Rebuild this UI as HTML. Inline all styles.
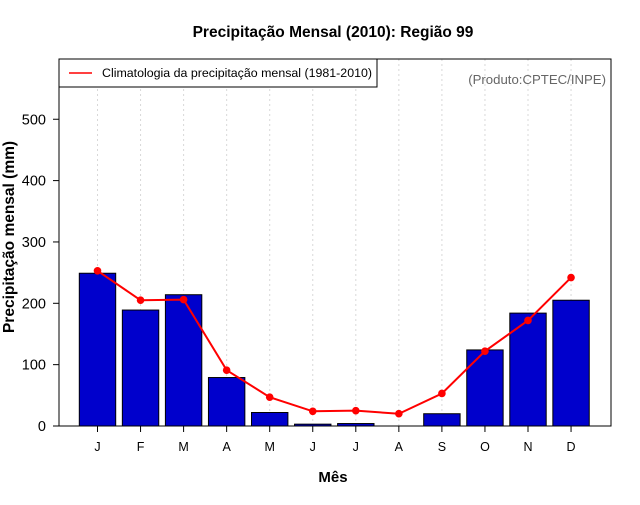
<!DOCTYPE html>
<html><head><meta charset="utf-8"><style>
body{margin:0;background:#fff;}
svg text{font-family:"Liberation Sans",sans-serif;}
</style></head><body>
<svg id="c" width="640" height="500" xmlns="http://www.w3.org/2000/svg"></svg>
<script>
const months=["J","F","M","A","M","J","J","A","S","O","N","D"];
const precip2010=[249,189,214,79,22,3,4,0,20,124,184,205];
const climatology=[253,205,206,91,47,24,25,20,53,122,172,242];
const yTicks=[0,100,200,300,400,500];
const NS="http://www.w3.org/2000/svg";
const svg=document.getElementById('c');
function el(t,a,txt){const e=document.createElementNS(NS,t);for(const k in a)e.setAttribute(k,a[k]);if(txt!=null)e.textContent=txt;svg.appendChild(e);return e;}
const L=59,R=611,T=59,B=426;
const y=v=>B-v*0.6135;
const x=i=>97.5+i*43.05;
const bw=36.4;
let e;
months.forEach((m,i)=>{e=el('line',{x1:x(i),x2:x(i),y1:T,y2:B,stroke:'#d8d8d8','stroke-dasharray':'2,3'});

});
precip2010.forEach((v,i)=>{e=el('rect',{x:x(i)-bw/2,y:y(v),width:bw,height:B-y(v),fill:'#0000cc',stroke:'#000','stroke-width':1});

});
e=el('polyline',{points:climatology.map((v,i)=>x(i)+','+y(v)).join(' '),fill:'none',stroke:'#ff0000','stroke-width':2});


climatology.forEach((v,i)=>{e=el('circle',{cx:x(i),cy:y(v),r:3.8,fill:'#ff0000'});

});
e=el('rect',{x:L,y:T,width:R-L,height:B-T,fill:'none',stroke:'#000','stroke-width':1});


yTicks.forEach(t=>{el('line',{x1:L-6,x2:L,y1:y(t),y2:y(t),stroke:'#000'});
e=el('text',{x:L-13,y:y(t)+5,'text-anchor':'end','font-size':14.5},t);

});
months.forEach((m,i)=>{el('line',{x1:x(i),x2:x(i),y1:B,y2:B+6,stroke:'#000'});
e=el('text',{x:x(i),y:B+25,'text-anchor':'middle','font-size':12.5},m);

});
e=el('text',{x:333,y:37,'text-anchor':'middle','font-size':15.5,'font-weight':'bold'},'Precipitação Mensal (2010): Região 99');


e=el('text',{x:333,y:482,'text-anchor':'middle','font-size':15,'font-weight':'bold'},'Mês');


e=el('text',{x:0,y:0,'text-anchor':'middle','font-size':15.5,'font-weight':'bold',transform:'translate(14,237) rotate(-90)'},'Precipitação mensal (mm)');


e=el('text',{x:606,y:84,'text-anchor':'end','font-size':13.2,fill:'#666'},'(Produto:CPTEC/INPE)');


e=el('rect',{x:59,y:59,width:318,height:28,fill:'#fff',stroke:'#000'});


el('line',{x1:69,x2:92,y1:73,y2:73,stroke:'#ff0000','stroke-width':1.5});
e=el('text',{x:102,y:77,'font-size':12.4},'Climatologia da precipitação mensal (1981-2010)');


</script>
</body></html>
